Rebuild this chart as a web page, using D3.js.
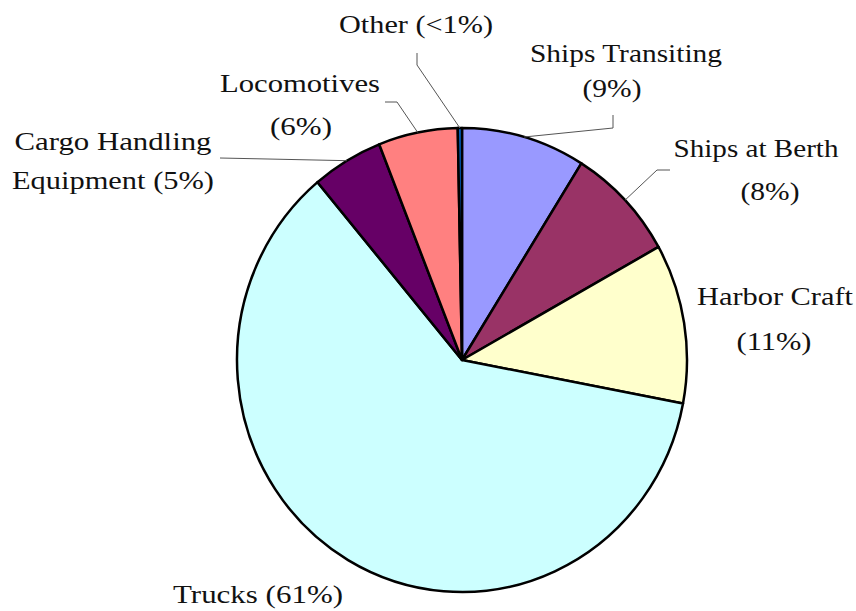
<!DOCTYPE html>
<html>
<head>
<meta charset="utf-8">
<script src="https://cdn.jsdelivr.net/npm/d3@7"></script>
<style>
  body { margin: 0; background: #fff; }
  svg { display: block; }
</style>
</head>
<body>
<div id="chart"></div>
<script>
// data
const categories = ['Ships Transiting', 'Ships at Berth', 'Harbor Craft', 'Trucks',
  'Cargo Handling Equipment', 'Locomotives', 'Other'];
const shares = [8.9, 8.0, 11.1, 60.9, 5.1, 5.7, 0.3];
const shareLabels = ['(9%)', '(8%)', '(11%)', '(61%)', '(5%)', '(6%)', '(<1%)'];
const sliceColors = ['#9999ff', '#993366', '#ffffcc', '#ccffff', '#660066', '#ff8080', '#0066cc'];

const width = 856;
const height = 611;
const cx = 462, cy = 360;
const rx = 225, ry = 232;

// label lines: text, x (center), baseline y, drawn width
const labelLayout = {
  'Ships Transiting': [['Ships Transiting', 626, 62, 192], ['(9%)', 612, 97, 59]],
  'Ships at Berth': [['Ships at Berth', 756, 157, 165], ['(8%)', 770, 200, 59]],
  'Harbor Craft': [['Harbor Craft', 775, 305, 156], ['(11%)', 774, 350, 75]],
  'Trucks': [['Trucks (61%)', 258, 603, 170]],
  'Cargo Handling Equipment': [['Cargo Handling', 113, 150, 197], ['Equipment (5%)', 113, 189, 202]],
  'Locomotives': [['Locomotives', 300, 92, 160], ['(6%)', 301, 135, 62]],
  'Other': [['Other (<1%)', 416, 33, 154]]
};

// leader line elbows, from the label end towards the pie edge
const leaderLayout = {
  'Ships Transiting': [[613, 115], [613, 128]],
  'Ships at Berth': [[670, 170], [657, 170]],
  'Cargo Handling Equipment': [[220, 158]],
  'Locomotives': [[385, 102], [397, 102]],
  'Other': [[417, 53], [417, 65]]
};

const svg = d3.select('#chart')
  .append('svg')
  .attr('width', width)
  .attr('height', height);

svg.append('rect').attr('width', width).attr('height', height).attr('fill', '#fff');

const pie = d3.pie().sort(null).value(d => d);
const arcs = pie(shares);

const arc = d3.arc().innerRadius(0).outerRadius(rx);

const g = svg.append('g')
  .attr('transform', `translate(${cx},${cy}) scale(1,${ry / rx})`);

g.selectAll('path')
  .data(arcs)
  .enter().append('path')
  .attr('d', arc)
  .attr('fill', (d, i) => sliceColors[i])
  .attr('stroke', '#000')
  .attr('stroke-width', 2.5)
  .attr('stroke-linejoin', 'round')
  .attr('vector-effect', 'non-scaling-stroke');

// point on the pie edge at the slice's middle angle
function edgePoint(d) {
  const a = (d.startAngle + d.endAngle) / 2;
  return [cx + rx * Math.sin(a), cy - ry * Math.cos(a)];
}

const line = d3.line();
arcs.forEach((d, i) => {
  const pts = leaderLayout[categories[i]];
  if (!pts) return;
  svg.append('path')
    .attr('d', line(pts.concat([edgePoint(d)])))
    .attr('fill', 'none')
    .attr('stroke', '#555')
    .attr('stroke-width', 1);
});

categories.forEach((c, i) => {
  labelLayout[c].forEach(([t, x, y, w]) => {
    svg.append('text')
      .attr('x', x)
      .attr('y', y)
      .attr('text-anchor', 'middle')
      .attr('font-family', "'Liberation Serif', 'Times New Roman', serif")
      .attr('font-size', 26)
      .attr('textLength', w)
      .attr('lengthAdjust', 'spacingAndGlyphs')
      .attr('fill', '#111')
      .text(t);
  });
});
</script>
</body>
</html>
